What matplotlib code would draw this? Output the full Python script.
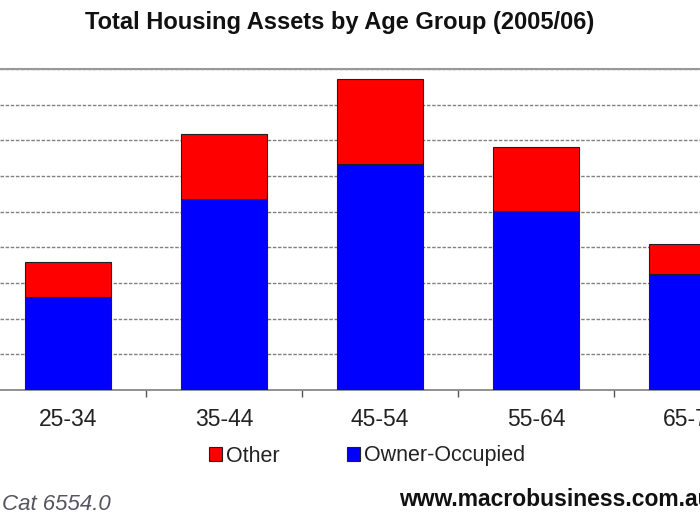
import matplotlib
matplotlib.use('Agg')
import matplotlib.pyplot as plt
from matplotlib.patches import Patch

# данные (1 деление сетки = 100)
age_groups = ['25-34', '35-44', '45-54', '55-64', '65-74']
owner_occupied = [261, 535, 635, 502, 325]
other = [98, 182, 236, 178, 83]

RED = '#ff0000'
BLUE = '#0000ff'
GRID = '#808080'

plt.rcParams['font.family'] = ['Liberation Sans', 'DejaVu Sans']

fig = plt.figure(figsize=(7, 5.25), dpi=100)
W, H = 700, 525
ax = fig.add_axes([0, (H - 390) / H, 1, 321 / H])

x = list(range(len(age_groups)))
bar_w = 0.55
ax.bar(x, owner_occupied, width=bar_w, color=BLUE, edgecolor='#202020',
       linewidth=0.8, zorder=3, label='Owner-Occupied')
ax.bar(x, other, width=bar_w, bottom=owner_occupied, color=RED,
       edgecolor='#202020', linewidth=0.8, zorder=3, label='Other')

# ось x: центр первой категории на 68 px, шаг 156 px
ax.set_xlim(-68 / 156, (W - 68) / 156)
ax.set_ylim(0, 900)
ax.set_yticks(range(0, 901, 100))
ax.yaxis.grid(True, color=GRID, linestyle=(0, (2.5, 1.2)), linewidth=1.0, zorder=0)
ax.tick_params(axis='y', left=False, labelleft=False)

ax.set_xticks(x)
ax.set_xticklabels(age_groups, fontsize=16.5, color='#222222')
ax.set_xticks([i + 0.5 for i in range(len(age_groups) - 1)], minor=True)
ax.tick_params(axis='x', which='major', length=0, pad=13)
ax.tick_params(axis='x', which='minor', length=5, width=1, color='#555555',
               direction='out')

for side in ['left', 'right']:
    ax.spines[side].set_visible(False)
ax.spines['top'].set_color('#999999')
ax.spines['top'].set_linewidth(1.5)
ax.spines['bottom'].set_color('#808080')
ax.spines['bottom'].set_linewidth(1.2)

fig.text(340 / W, 1 - 22 / H, 'Total Housing Assets by Age Group (2005/06)',
         ha='center', va='center', fontsize=17, fontweight='bold', color='#111111')

handles = [Patch(facecolor=RED, edgecolor='#202020', linewidth=0.8),
           Patch(facecolor=BLUE, edgecolor='#202020', linewidth=0.8)]
fig.legend(handles, ['Other', 'Owner-Occupied'], loc='center left',
           bbox_to_anchor=(209 / W, 1 - 456 / H), ncol=2, frameon=False,
           fontsize=15.5, handlelength=0.6, handleheight=0.6,
           handletextpad=0.2, columnspacing=3.1, borderpad=0, borderaxespad=0,
           labelcolor='#222222')

fig.text(2 / W, 1 - 505 / H, 'Cat 6554.0', ha='left', va='center',
         fontsize=16, fontstyle='italic', color='#555560')
fig.text(399 / W, 1 - 500 / H, 'www.macrobusiness.com.au', ha='left', va='center',
         fontsize=16.5, fontweight='bold', color='#111111')

fig.savefig('out.png', dpi=100)
